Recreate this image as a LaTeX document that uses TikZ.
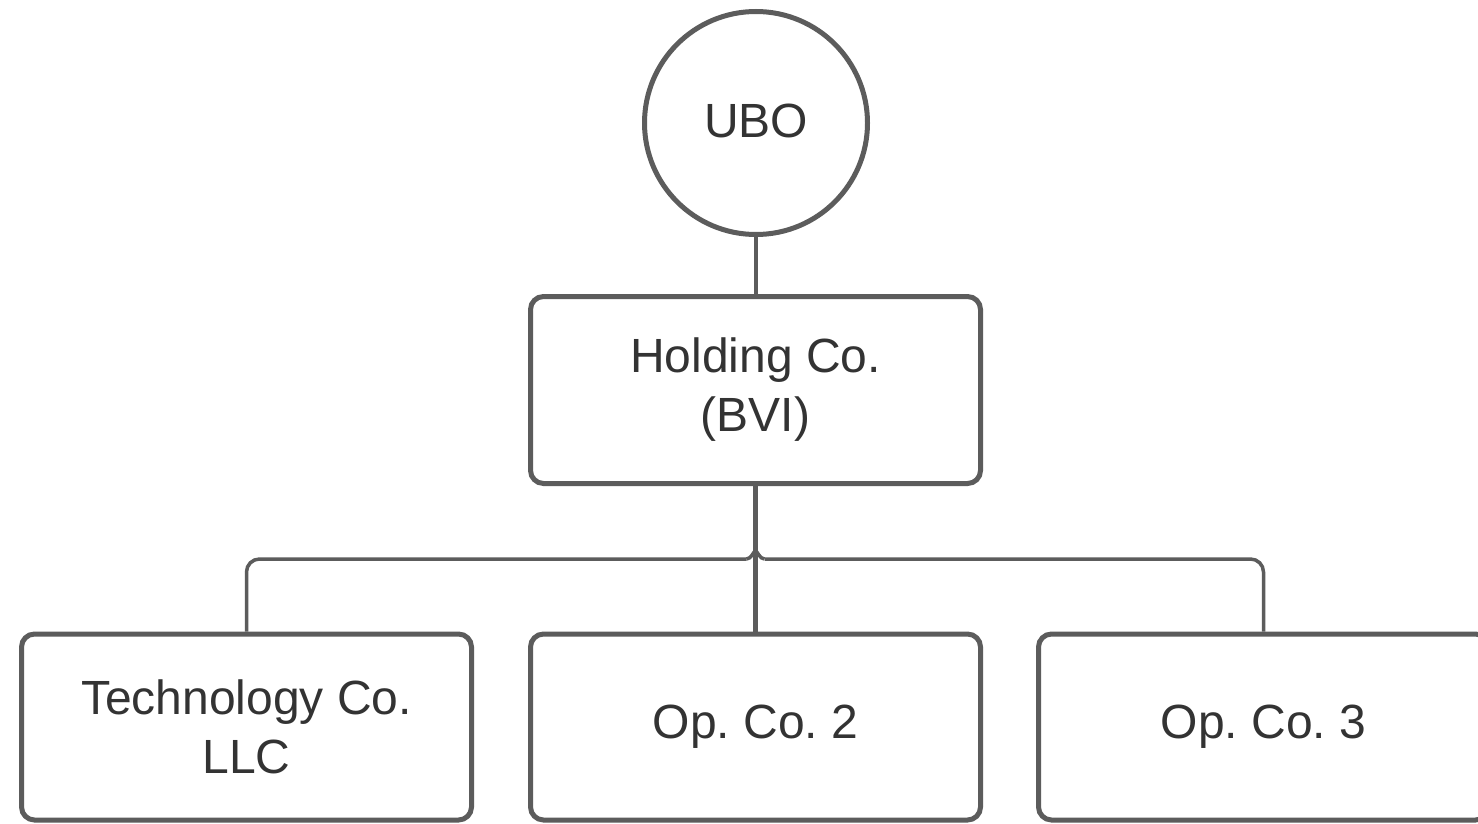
\documentclass[tikz,border=0pt]{standalone}
\usepackage{fontspec}
\setmainfont{Liberation Sans}
\usetikzlibrary{calc}
\definecolor{strokegray}{HTML}{5C5C5C}
\definecolor{textgray}{HTML}{333333}
\frenchspacing
\begin{document}
\begin{tikzpicture}[x=1pt,y=-1pt,
  entity/.style={draw=strokegray, line width=5pt, rounded corners=13pt,
    minimum width=450pt, inner sep=0pt, align=center, text=textgray,
    font=\fontsize{48}{59}\selectfont},
  owner/.style={draw=strokegray, line width=5pt, circle, minimum size=223pt,
    inner sep=0pt, text=textgray, font=\fontsize{48}{59}\selectfont},
  link/.style={draw=strokegray, line width=4.5pt},
  bus/.style={draw=strokegray, line width=3.5pt, rounded corners=13pt}]
\useasboundingbox (0,0) rectangle (1478,824);
\fill[white] (0,0) rectangle (1478,824);
\node[owner] (ubo) at (756,123) {\raisebox{5pt}{UBO}};
\node[entity, minimum height=187pt] (hold) at (755.5,390) {Holding Co.\\(BVI)};
\node[entity, minimum height=186pt] (tech) at (246.5,727) {Technology Co.\\LLC};
\node[entity, minimum height=186pt] (op2) at (755.5,727) {Op. Co. 2};
\node[entity, minimum height=186pt] (op3) at (1263.5,727) {Op. Co. 3};
\coordinate (hopL) at ($(hold.south)+(-9,73)$);
\coordinate (hopR) at ($(hold.south)+(9,73)$);
\draw[link] (ubo.south) -- (ubo.south |- hold.north);
\draw[link] (hold.south) -- (op2.north);
\draw[bus] (tech.north) |- (hopL);
\draw[bus, rounded corners=0pt] (hopL) .. controls ($(hopL)+(5,0)$) and ($(hopL)+(7,-8)$) .. ($(hopL)+(9,-8)$)
  .. controls ($(hopR)+(-7,-8)$) and ($(hopR)+(-5,0)$) .. (hopR);
\draw[bus] (hopR) -| (op3.north);
\end{tikzpicture}
\end{document}
